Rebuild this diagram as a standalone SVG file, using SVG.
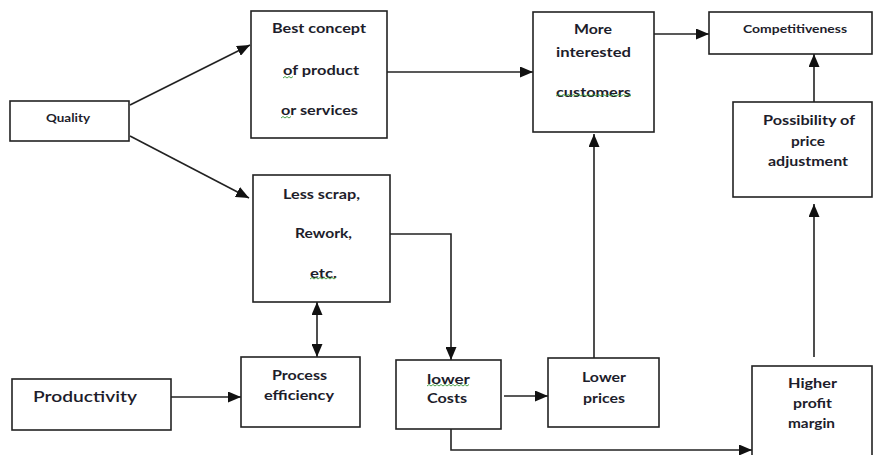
<svg xmlns="http://www.w3.org/2000/svg" width="873" height="455" viewBox="0 0 873 455">
<style>
.box{fill:#fff;stroke:#222;stroke-width:1.6}
.c{fill:none;stroke:#222;stroke-width:1.6}
text{font-family:Lato,"Liberation Sans",sans-serif;font-size:13px;font-weight:bold;fill:#1d1d2b}
.s{font-size:10.5px}
.l{font-size:16px;font-weight:600}
.sq{fill:none;stroke:#3a9a3a;stroke-width:0.9}
</style>
<defs>
<marker id="a" markerUnits="userSpaceOnUse" markerWidth="13" markerHeight="11" refX="13" refY="5.5" orient="auto-start-reverse">
<path d="M0,0 L13,5.5 L0,11 Z" fill="#111"/>
</marker>
</defs>
<rect width="873" height="455" fill="#fff"/>
<g id="connectors">
<path class="c" d="M130,105 L250,45" marker-end="url(#a)"/>
<path class="c" d="M130,136 L249,198" marker-end="url(#a)"/>
<path class="c" d="M387,72 L533,72" marker-end="url(#a)"/>
<path class="c" d="M654,34 L709,34" marker-end="url(#a)"/>
<path class="c" d="M814,102 L814,54" marker-end="url(#a)"/>
<path class="c" d="M814,357 L814,204" marker-end="url(#a)"/>
<path class="c" d="M594,358 L594,134" marker-end="url(#a)"/>
<path class="c" d="M390,234 L451,234 L451,360" marker-end="url(#a)"/>
<path class="c" d="M504,396 L548,396" marker-end="url(#a)"/>
<path class="c" d="M451,429 L451,450 L752,450" marker-end="url(#a)"/>
<path class="c" d="M317,302 L317,357" marker-start="url(#a)" marker-end="url(#a)"/>
<path class="c" d="M171,397 L241,397" marker-end="url(#a)"/>
</g>
<g id="quality">
<rect class="box" x="10" y="101" width="119" height="40"/>
<text class="s" x="46" y="122" textLength="44" lengthAdjust="spacingAndGlyphs">Quality</text>
</g>
<g id="best-concept">
<rect class="box" x="251" y="11" width="136" height="127"/>
<text x="272" y="33" textLength="94" lengthAdjust="spacingAndGlyphs">Best concept</text>
<text x="283" y="75" textLength="76" lengthAdjust="spacingAndGlyphs">of product</text>
<text x="281" y="115" textLength="77" lengthAdjust="spacingAndGlyphs">or services</text>
<path class="sq" d="M283,78 l2,-1.5 l2,1.5 l2,-1.5 l2,1.5 l2,-1.5"/>
<path class="sq" d="M281,118 l2,-1.5 l2,1.5 l2,-1.5 l2,1.5 l2,-1.5"/>
</g>
<g id="less-scrap">
<rect class="box" x="253" y="175" width="137" height="127"/>
<text x="283" y="199" textLength="77" lengthAdjust="spacingAndGlyphs">Less scrap,</text>
<text x="295" y="238" textLength="57" lengthAdjust="spacingAndGlyphs">Rework,</text>
<text x="310" y="278" textLength="27" lengthAdjust="spacingAndGlyphs">etc.</text>
<path class="sq" d="M310,279 l2,-1.5 l2,1.5 l2,-1.5 l2,1.5 l2,-1.5 l2,1.5 l2,-1.5 l2,1.5 l2,-1.5 l2,1.5 l2,-1.5 l2,1.5 l2,-1.5"/>
</g>
<g id="process-efficiency">
<rect class="box" x="241" y="357" width="119" height="70"/>
<text x="272" y="380" textLength="55" lengthAdjust="spacingAndGlyphs">Process</text>
<text x="264" y="400" textLength="70" lengthAdjust="spacingAndGlyphs">efficiency</text>
</g>
<g id="productivity">
<rect class="box" x="12" y="379" width="159" height="51"/>
<text class="l" x="33" y="402" textLength="104" lengthAdjust="spacingAndGlyphs">Productivity</text>
</g>
<g id="lower-costs">
<rect class="box" x="396" y="360" width="105" height="69"/>
<text x="427" y="384" textLength="43" lengthAdjust="spacingAndGlyphs">lower</text>
<text x="427" y="403" textLength="40" lengthAdjust="spacingAndGlyphs">Costs</text>
<path class="sq" d="M427,386 l2,-1.5 l2,1.5 l2,-1.5 l2,1.5 l2,-1.5 l2,1.5 l2,-1.5 l2,1.5 l2,-1.5 l2,1.5 l2,-1.5 l2,1.5 l2,-1.5 l2,1.5 l2,-1.5 l2,1.5 l2,-1.5 l2,1.5 l2,-1.5 l2,1.5 l2,-1.5"/>
</g>
<g id="lower-prices">
<rect class="box" x="548" y="358" width="111" height="69"/>
<text x="582" y="382" textLength="44" lengthAdjust="spacingAndGlyphs">Lower</text>
<text x="583" y="403" textLength="42" lengthAdjust="spacingAndGlyphs">prices</text>
</g>
<g id="higher-profit-margin">
<rect class="box" x="752" y="366" width="120" height="95"/>
<text x="788" y="388" textLength="49" lengthAdjust="spacingAndGlyphs">Higher</text>
<text x="793" y="408" textLength="39" lengthAdjust="spacingAndGlyphs">profit</text>
<text x="788" y="428" textLength="47" lengthAdjust="spacingAndGlyphs">margin</text>
</g>
<g id="more-interested-customers">
<rect class="box" x="533" y="12" width="121" height="120"/>
<text x="574" y="34" textLength="38" lengthAdjust="spacingAndGlyphs">More</text>
<text x="556" y="57" textLength="75" lengthAdjust="spacingAndGlyphs">interested</text>
<text x="556" y="97" textLength="75" lengthAdjust="spacingAndGlyphs">customers</text>
<path class="sq" d="M556,96 l2.5,-1.5 l2.5,1.5 l2.5,-1.5 l2.5,1.5 l2.5,-1.5 l2.5,1.5 l2.5,-1.5 l2.5,1.5 l2.5,-1.5 l2.5,1.5 l2.5,-1.5 l2.5,1.5 l2.5,-1.5 l2.5,1.5 l2.5,-1.5 l2.5,1.5 l2.5,-1.5 l2.5,1.5 l2.5,-1.5 l2.5,1.5 l2.5,-1.5 l2.5,1.5 l2.5,-1.5 l2.5,1.5 l2.5,-1.5 l2.5,1.5 l2.5,-1.5 l2.5,1.5 l2.5,-1.5 l2.5,1.5"/>
</g>
<g id="competitiveness">
<rect class="box" x="709" y="12" width="163" height="42"/>
<text class="s" x="743" y="33" textLength="104" lengthAdjust="spacingAndGlyphs">Competitiveness</text>
</g>
<g id="possibility-of-price-adjustment">
<rect class="box" x="733" y="102" width="139" height="95"/>
<text x="763" y="125" textLength="92" lengthAdjust="spacingAndGlyphs">Possibility of</text>
<text x="791" y="146" textLength="34" lengthAdjust="spacingAndGlyphs">price</text>
<text x="768" y="166" textLength="80" lengthAdjust="spacingAndGlyphs">adjustment</text>
</g>
</svg>
